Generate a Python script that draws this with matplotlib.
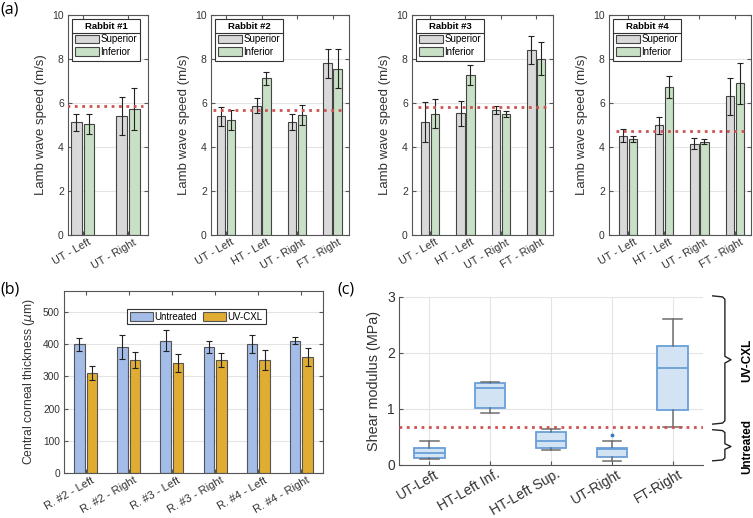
import matplotlib.pyplot as plt
import numpy as np
from matplotlib.lines import Line2D
from matplotlib.transforms import ScaledTranslation

# (a) lamb wave speed (m/s), superior / inferior, mean and sd
r1_cats = ['UT - Left', 'UT - Right']
r1_sup = [5.12, 5.41]
r1_sup_err = [0.38, 0.87]
r1_inf = [5.05, 5.73]
r1_inf_err = [0.45, 0.96]
r1_ref = 5.86

cats = ['UT - Left', 'HT - Left', 'UT - Right', 'FT - Right']
r2_sup = [5.39, 5.88, 5.12, 7.80]
r2_sup_err = [0.42, 0.33, 0.36, 0.67]
r2_inf = [5.23, 7.12, 5.44, 7.55]
r2_inf_err = [0.45, 0.28, 0.45, 0.89]
r2_ref = 5.67

r3_sup = [5.15, 5.54, 5.68, 8.40]
r3_sup_err = [0.90, 0.57, 0.17, 0.63]
r3_inf = [5.51, 7.27, 5.50, 8.02]
r3_inf_err = [0.66, 0.44, 0.14, 0.74]
r3_ref = 5.80

r4_sup = [4.51, 4.99, 4.15, 6.30]
r4_sup_err = [0.29, 0.38, 0.26, 0.85]
r4_inf = [4.36, 6.74, 4.25, 6.89]
r4_inf_err = [0.12, 0.51, 0.13, 0.93]
r4_ref = 4.71

# (b) central corneal thickness (um)
cct_cats = ['R. #2 - Left', 'R. #2 - Right', 'R. #3 - Left',
            'R. #3 - Right', 'R. #4 - Left', 'R. #4 - Right']
cct_untreated = [400, 391, 411, 391, 400, 411]
cct_untreated_err = [20, 36, 32, 18, 27, 12]
cct_uvcxl = [310, 350, 341, 350, 351, 360]
cct_uvcxl_err = [21, 25, 28, 22, 30, 28]

# (c) shear modulus (MPa) box stats
shear_cats = ['UT-Left', 'HT-Left Inf.', 'HT-Left Sup.', 'UT-Right', 'FT-Right']
shear_whislo = [0.10, 0.92, 0.27, 0.07, 0.68]
shear_q1 = [0.13, 1.02, 0.30, 0.15, 0.98]
shear_med = [0.21, 1.38, 0.43, 0.28, 1.74]
shear_q3 = [0.30, 1.47, 0.59, 0.30, 2.13]
shear_whishi = [0.43, 1.48, 0.635, 0.42, 2.61]
shear_fliers = [[], [], [], [0.53], []]
shear_ref = 0.67

plt.rcParams['font.family'] = ['Liberation Sans', 'DejaVu Sans']

fig = plt.figure(figsize=(7.53, 5.18), dpi=100)
W, H = 753.0, 518.0

def rect(l, t, r, b):
    return [l / W, 1 - b / H, (r - l) / W, (b - t) / H]

red = '#d05252'
spine_c = '#555555'
txt_c = '#333333'
grid_c = '#e4e4e4'

def style_axes(ax, labels, fs):
    ax.set_xticks(np.arange(1, len(labels) + 1))
    ax.set_xticklabels(labels, rotation=30, ha='right', va='top',
                       rotation_mode='anchor', fontsize=fs)
    for s in ax.spines.values():
        s.set_color(spine_c)
        s.set_linewidth(0.8)
    ax.set_axisbelow(True)

legends = []
all_axes = []

def lamb_panel(box, labels, sup, sup_err, inf, inf_err, ref, title, xlim):
    ax = fig.add_axes(rect(*box))
    x = np.arange(1, len(labels) + 1)
    ax.bar(x - 0.14, sup, 0.235, color='#d9d9d9', edgecolor='#444444',
           linewidth=0.8, label='Superior', zorder=2)
    ax.bar(x + 0.14, inf, 0.235, color='#c8e0c6', edgecolor='#444444',
           linewidth=0.8, label='Inferior', zorder=2)
    ax.errorbar(x - 0.14, sup, yerr=sup_err, fmt='none', ecolor='#222222',
                elinewidth=0.8, capsize=2.5, capthick=0.8, zorder=3)
    ax.errorbar(x + 0.14, inf, yerr=inf_err, fmt='none', ecolor='#222222',
                elinewidth=0.8, capsize=2.5, capthick=0.8, zorder=3)
    ax.plot([0.65, len(labels) + 0.33], [ref, ref], ':', color=red, lw=2, zorder=4)
    ax.set_xlim(xlim)
    ax.set_ylim(0, 10)
    ax.set_yticks(range(0, 11, 2))
    ax.grid(axis='y', color=grid_c, lw=0.8)
    style_axes(ax, labels, 7.8)
    ax.tick_params(direction='in', top=True, right=True, length=3, pad=1.5,
                   color=spine_c, labelcolor=txt_c)
    ax.tick_params(axis='y', labelsize=7.5, pad=3)
    ax.set_ylabel('Lamb wave speed (m/s)', fontsize=9.5, color=txt_c)
    leg = ax.legend(title=title, loc='upper left', fontsize=7, title_fontsize=6.8,
                    fancybox=False, framealpha=1, edgecolor='#333333',
                    borderaxespad=0.4, borderpad=0.35, labelspacing=0.3,
                    handlelength=2.4, handleheight=1.0, handletextpad=0.15)
    leg.get_title().set_fontweight('bold')
    leg.get_frame().set_linewidth(0.8)
    legends.append(leg)
    all_axes.append(ax)
    return ax

lamb_panel((68, 15, 148, 235), r1_cats, r1_sup, r1_sup_err, r1_inf, r1_inf_err,
           r1_ref, 'Rabbit #1', (0.68, 2.44))
lamb_panel((211, 15, 349, 235), cats, r2_sup, r2_sup_err, r2_inf, r2_inf_err,
           r2_ref, 'Rabbit #2', (0.58, 4.46))
lamb_panel((412, 15, 553, 235), cats, r3_sup, r3_sup_err, r3_inf, r3_inf_err,
           r3_ref, 'Rabbit #3', (0.49, 4.47))
lamb_panel((609, 15, 751, 235), cats, r4_sup, r4_sup_err, r4_inf, r4_inf_err,
           r4_ref, 'Rabbit #4', (0.46, 4.45))

# (b)
axb = fig.add_axes(rect(64, 291, 323, 473))
xb = np.arange(1, len(cct_cats) + 1)
axb.bar(xb - 0.145, cct_untreated, 0.24, color='#a3bce8', edgecolor='#555555',
        linewidth=0.8, label='Untreated', zorder=2)
axb.bar(xb + 0.145, cct_uvcxl, 0.24, color='#e0ad32', edgecolor='#555555',
        linewidth=0.8, label='UV-CXL', zorder=2)
axb.errorbar(xb - 0.145, cct_untreated, yerr=cct_untreated_err, fmt='none',
             ecolor='#222222', elinewidth=0.8, capsize=2.5, capthick=0.8, zorder=3)
axb.errorbar(xb + 0.145, cct_uvcxl, yerr=cct_uvcxl_err, fmt='none',
             ecolor='#222222', elinewidth=0.8, capsize=2.5, capthick=0.8, zorder=3)
axb.set_xlim(0.5, 6.5)
axb.set_ylim(0, 565)
axb.set_yticks(range(0, 501, 100))
axb.grid(axis='y', color=grid_c, lw=0.8)
style_axes(axb, cct_cats, 8)
axb.tick_params(direction='in', top=True, right=True, length=3, pad=1.5,
                color=spine_c, labelcolor=txt_c)
axb.tick_params(axis='y', labelsize=7.3, pad=3)
axb.set_ylabel('Central corneal thickness ($\\mu$m)', fontsize=8.7, color=txt_c)
legb = axb.legend(loc='upper center', bbox_to_anchor=(0.51, 0.93), ncol=2,
                  fontsize=7, fancybox=False, framealpha=1, edgecolor='#333333',
                  borderpad=0.3, handlelength=2.4, handleheight=1.0,
                  handletextpad=0.15, columnspacing=0.6)
legb.get_frame().set_linewidth(0.8)
all_axes.append(axb)

# (c)
axc = fig.add_axes(rect(399, 297, 703, 465))
stats = []
for i in range(len(shear_cats)):
    stats.append({'med': shear_med[i], 'q1': shear_q1[i], 'q3': shear_q3[i],
                  'whislo': shear_whislo[i], 'whishi': shear_whishi[i],
                  'fliers': shear_fliers[i]})
xc = np.arange(1, len(shear_cats) + 1)
axc.bxp(stats, positions=xc, widths=0.5, capwidths=0.3, patch_artist=True,
        boxprops=dict(facecolor='#d2e3f3', edgecolor='#6a9fd8', linewidth=1.3),
        medianprops=dict(color='#6a9fd8', linewidth=1.3),
        whiskerprops=dict(color='#6e6e6e', linewidth=1.1),
        capprops=dict(color='#6e6e6e', linewidth=1.1),
        flierprops=dict(marker='o', markersize=1.8, markerfacecolor='#3a78c2',
                        markeredgecolor='#3a78c2'))
axc.axhline(shear_ref, ls=':', color=red, lw=2, zorder=4)
axc.set_xlim(0.5, 5.5)
axc.set_ylim(0, 3)
axc.set_yticks([0, 1, 2, 3])
axc.grid(color=grid_c, lw=0.8)
style_axes(axc, shear_cats, 10)
axc.spines['top'].set_visible(False)
axc.spines['right'].set_visible(False)
axc.tick_params(direction='in', length=3, pad=1.5, color=spine_c, labelcolor=txt_c)
axc.tick_params(axis='y', labelsize=10, pad=3)
axc.set_ylabel('Shear modulus (MPa)', fontsize=10.4, color=txt_c)
all_axes.append(axc)

def brace(ax, x0, x1, x2, ytop, ymid, ybot, d):
    xs = [x0, x1 - 0.04, x1, x1, x2, x1, x1, x1 - 0.04, x0]
    ys = [ytop, ytop - d * 0.3, ytop - d, ymid + d, ymid, ymid - d, ybot + d,
          ybot + d * 0.3, ybot]
    ax.plot(xs, ys, color='#222222', lw=1, clip_on=False)

brace(axc, 5.66, 5.86, 5.96, 3.02, 1.88, 0.73, 0.06)
brace(axc, 5.66, 5.86, 5.96, 0.63, 0.33, 0.075, 0.05)
axc.text(6.22, 1.87, 'UV-CXL', rotation=90, ha='center', va='center',
         fontsize=8.5, fontweight='bold', clip_on=False)
axc.text(6.22, 0.33, 'Untreated', rotation=90, ha='center', va='center',
         fontsize=8.5, fontweight='bold', clip_on=False)

# panel letters
fig.text(0.0, 1 - 1 / H, '(a)', ha='left', va='top', fontsize=11.5, family='Open Sans')
fig.text(0.0, 1 - 281 / H, '(b)', ha='left', va='top', fontsize=11.5, family='Open Sans')
fig.text(337 / W, 1 - 281 / H, '(c)', ha='left', va='top', fontsize=11.5, family='Open Sans')

fig.canvas.draw()
r = fig.canvas.get_renderer()
inv = fig.transFigure.inverted()

# nudge rotated tick labels a bit to the right, like matlab does
shift = ScaledTranslation(5 / 100, 0, fig.dpi_scale_trans)
for ax in all_axes:
    for t in ax.xaxis.get_major_ticks():
        t.label1.set_transform(t.label1.get_transform() + shift)

# separator line under legend titles (matlab style)
for leg in legends:
    fb = leg.get_frame().get_window_extent(r)
    tb = leg.get_title().get_window_extent(r)
    y = tb.y0 - 1.5
    (fx0, fy), (fx1, _) = inv.transform([(fb.x0, y), (fb.x1, y)])
    fig.add_artist(Line2D([fx0, fx1], [fy, fy], transform=fig.transFigure,
                          color='#333333', lw=0.8))

fig.savefig('out.png', dpi=100)
